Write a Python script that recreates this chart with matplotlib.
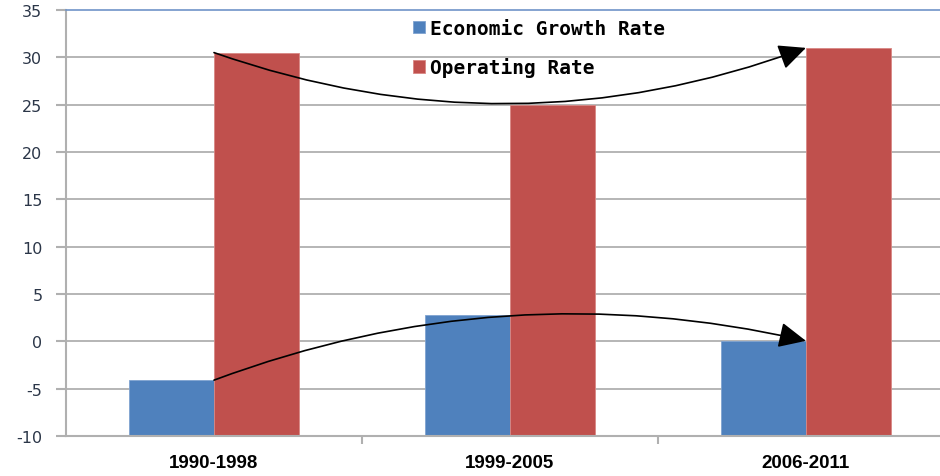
import numpy as np
import matplotlib
matplotlib.use("Agg")
import matplotlib.pyplot as plt
from matplotlib.patches import FancyArrowPatch

# ── Data ──────────────────────────────────────────────────────────────────────
periods        = ["1990-1998", "1999-2005", "2006-2011"]
growth_rate    = [-4.1, 2.8, 0.05]
operating_rate = [30.5, 25.0, 31.0]
y_ticks        = [-10, -5, 0, 5, 10, 15, 20, 25, 30, 35]

BLUE = "#4f81bd"
RED  = "#c0504d"
GRID = "#b0b0b0"

# ── Figure ────────────────────────────────────────────────────────────────────
fig = plt.figure(figsize=(9.4, 4.77), dpi=100)
ax = fig.add_axes([66 / 940, 40 / 477, 874 / 940, 426 / 477])

x = np.arange(len(periods))
w = 0.287
b1 = ax.bar(x - w / 2, growth_rate, width=w, color=BLUE,
            edgecolor="#7fa3d0", linewidth=0.6, label="Economic Growth Rate", zorder=2)
b2 = ax.bar(x + w / 2, operating_rate, width=w, color=RED,
            edgecolor="#d88784", linewidth=0.6, label="Operating Rate", zorder=2)
# bars start from the bottom of the axis, as in the spreadsheet chart
for bars, vals in ((b1, growth_rate), (b2, operating_rate)):
    for r, v in zip(bars, vals):
        r.set_y(-10)
        r.set_height(v + 10)

ax.set_xlim(-0.5, 2.453)
ax.set_ylim(-10, 35)
ax.set_yticks(y_ticks)
ax.set_yticklabels([str(t) for t in y_ticks], fontsize=11.5, color="#2b3648",
                   family="DejaVu Sans")
ax.set_xticks(x)
ax.set_xticklabels(periods, fontsize=13.5, fontweight="bold", family="Liberation Sans")
ax.set_xticks([0.5, 1.5], minor=True)
ax.tick_params(axis="x", which="major", length=0, pad=13)
ax.tick_params(axis="x", which="minor", length=6, color=GRID, width=1.5)
ax.tick_params(axis="y", length=7, color=GRID, width=1.5, pad=10)

for t in y_ticks[1:-1]:
    ax.axhline(t, color=GRID, lw=1.3, zorder=1)

ax.spines["right"].set_visible(False)
ax.spines["top"].set_color("#6f94c8")
ax.spines["top"].set_linewidth(1.2)
for s in ("left", "bottom"):
    ax.spines[s].set_color(GRID)
    ax.spines[s].set_linewidth(1.5)

# ── Arrows ────────────────────────────────────────────────────────────────────
head = "-|>,head_length=0.6,head_width=0.28"
top = FancyArrowPatch((x[0], operating_rate[0]), (x[2], operating_rate[2]),
                      connectionstyle="arc3,rad=0.18", arrowstyle=head,
                      mutation_scale=28, color="black", lw=1.2,
                      shrinkA=0, shrinkB=0, zorder=4)
bot = FancyArrowPatch((x[0], growth_rate[0]), (x[2], growth_rate[2]),
                      connectionstyle="arc3,rad=-0.15", arrowstyle=head,
                      mutation_scale=28, color="black", lw=1.2,
                      shrinkA=0, shrinkB=0, zorder=4)
ax.add_patch(top)
ax.add_patch(bot)

# ── Legend ────────────────────────────────────────────────────────────────────
ax.legend(handles=[b1, b2], loc="upper left", bbox_to_anchor=(0.377, 1.02),
          frameon=False, handlelength=0.6, handleheight=0.6, handletextpad=0.3,
          labelspacing=1.0, prop={"family": "DejaVu Sans Mono", "weight": "bold",
                                  "size": 14})

fig.savefig("out.png", dpi=100)
